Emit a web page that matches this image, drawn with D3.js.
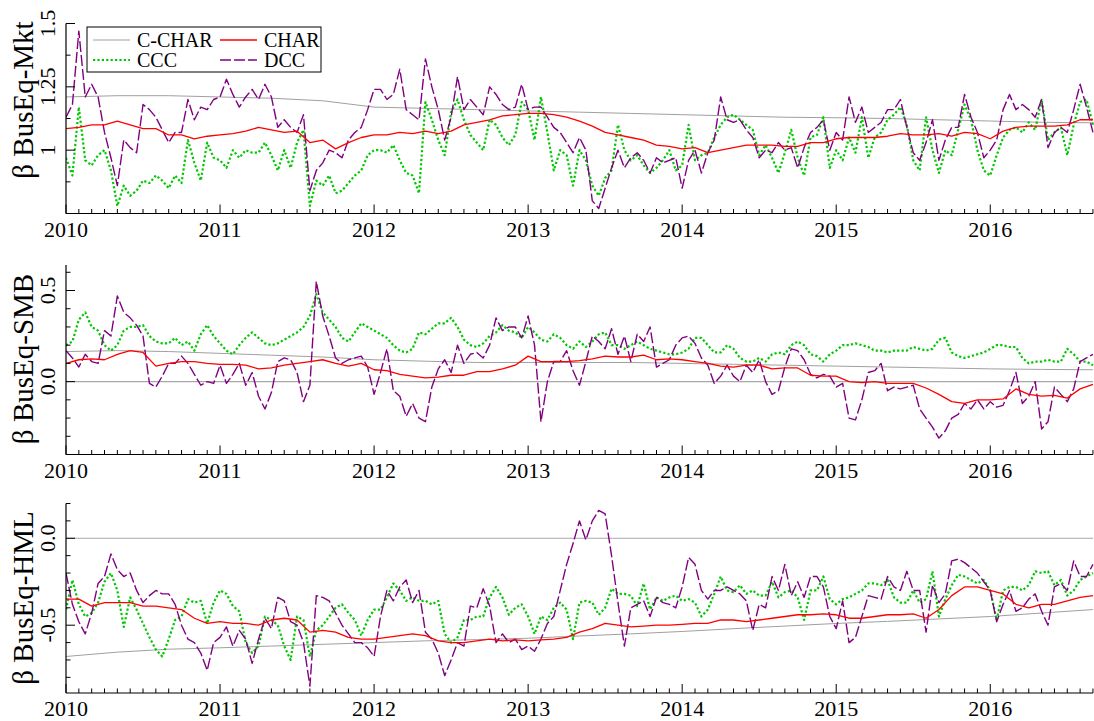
<!DOCTYPE html>
<html>
<head>
<meta charset="utf-8">
<script src="https://cdn.jsdelivr.net/npm/d3@7"></script>
<style>
  body { margin: 0; background: #fff; }
  text { font-family: "Liberation Serif", "Times New Roman", serif; fill: #000; }
</style>
</head>
<body>
<div id="chart"></div>
<script>
// Half-monthly series start at 2010.0, monthly and four-monthly ones too.
var startYear = 2010;
var endYear = 2016.667;
var yearTicks = [2010, 2011, 2012, 2013, 2014, 2015, 2016];
var seriesNames = ['C-CHAR', 'CHAR', 'CCC', 'DCC'];

// --- BusEq-Mkt ---
var mktDCC = [
  1.13,1.18,1.47,1.21,1.26,1.21,1.07,0.97,0.86,1.04,1.01,0.99,1.18,1.16,1.13,1.08,1.03,1.07,1.07,1.2,1.12,1.17,1.16,1.2,
  1.21,1.28,1.22,1.17,1.21,1.24,1.2,1.26,1.21,1.09,1.12,1.09,1.07,1.14,0.84,0.92,0.95,1.0,0.99,0.97,1.04,1.07,1.09,1.16,
  1.24,1.24,1.2,1.22,1.32,1.16,1.14,1.12,1.36,1.25,1.16,1.04,1.13,1.29,1.16,1.2,1.17,1.14,1.25,1.22,1.18,1.16,1.17,1.26,
  1.16,1.17,1.17,1.13,1.09,1.07,1.03,0.99,1.05,1.0,0.8,0.77,0.85,0.93,1.0,0.93,0.97,0.99,0.96,0.91,0.97,0.95,0.96,0.97,
  0.85,0.96,1.0,0.91,0.99,1.04,1.21,1.12,1.11,1.12,1.08,1.05,0.97,1.0,0.99,1.03,1.0,1.01,0.93,1.01,1.07,1.09,1.12,1.0,
  1.07,1.04,1.21,1.11,1.17,1.07,1.09,1.11,1.16,1.16,1.2,1.09,0.99,0.96,1.03,1.12,0.96,1.04,1.09,1.09,1.22,1.13,1.07,0.97,
  1.0,1.04,1.16,1.22,1.16,1.18,1.16,1.13,1.2,1.01,1.07,1.09,1.07,1.16,1.26,1.17,1.07
];
var mktCCC = [
  0.97,0.9,1.17,0.96,0.94,0.98,1.0,0.92,0.78,0.86,0.82,0.84,0.88,0.87,0.9,0.88,0.85,0.9,0.87,1.04,0.95,0.88,1.03,0.97,
  0.96,0.93,1.0,0.97,1.0,0.99,0.99,1.03,0.98,0.92,1.0,0.93,1.03,1.08,0.78,0.88,0.86,0.9,0.83,0.84,0.87,0.9,0.92,0.98,
  1.0,1.0,0.99,1.02,0.96,0.91,0.9,0.83,1.19,1.12,1.04,0.98,1.15,1.2,1.12,1.06,1.03,1.0,1.12,1.1,1.05,1.02,1.06,1.19,
  1.16,1.04,1.21,1.07,0.92,1.0,0.98,0.86,1.0,0.96,0.86,0.82,0.89,0.92,1.1,1.0,0.96,0.98,0.94,0.91,0.93,0.96,1.0,0.92,
  0.94,1.1,0.96,0.98,0.99,1.05,1.1,1.13,1.14,1.12,1.1,1.08,0.98,1.02,0.97,0.91,0.99,1.08,0.97,0.9,1.05,1.06,1.13,0.93,
  1.0,0.96,1.05,0.99,1.13,0.97,1.05,1.07,1.12,1.14,1.17,1.1,0.96,0.92,1.13,1.0,0.91,1.0,0.98,1.08,1.18,1.12,1.0,0.92,
  0.9,0.98,1.05,1.08,1.09,1.07,1.11,1.08,1.2,1.04,1.07,1.09,0.98,1.1,1.19,1.2,1.1
];
var mktCHAR = [
  1.085,1.09,1.1,1.1,1.115,1.1,1.085,1.085,1.06,1.06,1.045,1.055,
  1.06,1.065,1.075,1.09,1.08,1.07,1.075,1.03,1.04,1.005,1.03,1.05,
  1.06,1.06,1.07,1.065,1.075,1.065,1.075,1.1,1.11,1.12,1.135,1.14,
  1.145,1.145,1.14,1.13,1.115,1.095,1.07,1.06,1.05,1.04,1.02,1.015,
  1.005,1.01,0.99,1.0,1.01,1.02,1.02,1.02,1.015,1.015,1.03,1.03,
  1.045,1.05,1.05,1.05,1.055,1.065,1.06,1.06,1.065,1.055,1.07,1.065,
  1.045,1.075,1.09,1.095,1.095,1.095,1.1,1.12,1.12
];
var mktCCHAR = [1.21,1.215,1.215,1.21,1.205,1.195,1.17,1.165,1.16,1.155,1.15,1.145,1.14,1.135,1.13,1.128,1.125,1.12,1.115,1.11,1.108];

// --- BusEq-SMB ---
var smbDCC = [
  0.17,0.13,0.08,0.15,0.11,0.1,0.28,0.25,0.47,0.38,0.35,0.31,0.25,-0.01,-0.03,0.03,0.1,0.1,0.14,0.1,0.04,-0.02,0.0,-0.01,
  0.09,-0.01,0.04,0.1,-0.02,0.05,-0.08,-0.15,-0.06,0.11,0.13,0.12,0.05,-0.11,-0.02,0.55,0.36,0.25,0.13,0.1,0.12,0.13,0.14,0.08,
  -0.07,0.05,0.18,-0.05,-0.08,-0.19,-0.12,-0.2,-0.22,-0.03,0.07,0.12,0.05,0.2,0.1,0.15,0.16,0.13,0.2,0.35,0.28,0.3,0.3,0.24,
  0.36,0.2,-0.22,0.0,0.11,0.11,0.17,0.06,-0.02,0.11,0.25,0.22,0.18,0.29,0.15,0.25,0.11,0.26,0.22,0.3,0.08,0.1,0.12,0.2,
  0.24,0.25,0.21,0.13,0.09,-0.01,0.03,0.09,0.03,0.0,0.09,0.05,0.12,0.0,-0.07,-0.05,0.08,0.18,0.17,0.12,0.04,0.02,0.04,0.03,
  -0.03,-0.01,-0.2,-0.21,-0.1,0.05,0.06,0.1,-0.05,-0.03,-0.04,-0.03,-0.02,-0.15,-0.2,-0.25,-0.31,-0.27,-0.2,-0.18,-0.12,-0.15,-0.1,-0.15,
  -0.11,-0.14,-0.13,-0.05,0.05,-0.12,-0.08,0.0,-0.26,-0.22,-0.03,-0.07,-0.11,-0.04,0.11,0.13,0.15
];
var smbCCC = [
  0.2,0.22,0.34,0.38,0.3,0.28,0.2,0.17,0.2,0.28,0.3,0.3,0.31,0.25,0.22,0.21,0.21,0.24,0.2,0.22,0.17,0.26,0.31,0.25,
  0.21,0.17,0.15,0.2,0.24,0.27,0.24,0.21,0.2,0.21,0.23,0.25,0.27,0.3,0.36,0.48,0.38,0.34,0.3,0.24,0.22,0.27,0.32,0.3,
  0.28,0.26,0.24,0.2,0.17,0.16,0.18,0.27,0.26,0.29,0.32,0.32,0.35,0.3,0.23,0.2,0.19,0.21,0.25,0.27,0.31,0.28,0.27,0.24,
  0.3,0.27,0.23,0.22,0.26,0.24,0.2,0.18,0.22,0.19,0.22,0.26,0.27,0.2,0.2,0.18,0.2,0.22,0.2,0.18,0.17,0.16,0.15,0.15,
  0.16,0.18,0.24,0.24,0.2,0.16,0.16,0.2,0.18,0.13,0.11,0.11,0.13,0.11,0.15,0.16,0.15,0.2,0.22,0.2,0.15,0.14,0.11,0.15,
  0.17,0.2,0.2,0.21,0.2,0.19,0.17,0.17,0.16,0.17,0.17,0.17,0.19,0.18,0.17,0.18,0.23,0.24,0.16,0.14,0.13,0.14,0.15,0.16,
  0.18,0.2,0.2,0.19,0.19,0.13,0.1,0.11,0.11,0.12,0.11,0.11,0.18,0.15,0.11,0.11,0.09
];
var smbCHAR = [
  0.1,0.12,0.125,0.12,0.15,0.17,0.16,0.085,0.1,0.11,0.11,0.1,
  0.095,0.095,0.09,0.07,0.075,0.09,0.1,0.11,0.12,0.1,0.085,0.1,
  0.065,0.06,0.04,0.03,0.02,0.025,0.035,0.035,0.055,0.055,0.07,0.09,
  0.14,0.11,0.11,0.11,0.115,0.125,0.14,0.135,0.135,0.145,0.12,0.125,
  0.12,0.11,0.1,0.085,0.08,0.09,0.09,0.07,0.075,0.075,0.035,0.03,
  0.03,0.0,-0.005,0.0,-0.01,-0.01,-0.01,-0.035,-0.07,-0.11,-0.12,-0.1,
  -0.1,-0.095,-0.04,-0.07,-0.08,-0.075,-0.09,-0.04,-0.015
];
var smbCCHAR = [0.165,0.17,0.165,0.155,0.145,0.135,0.12,0.112,0.105,0.105,0.105,0.105,0.1,0.095,0.09,0.085,0.08,0.075,0.07,0.067,0.065];

// --- BusEq-HML ---
var hmlDCC = [
  -0.2,-0.38,-0.48,-0.55,-0.43,-0.26,-0.22,-0.09,-0.18,-0.22,-0.2,-0.3,-0.37,-0.33,-0.3,-0.32,-0.32,-0.38,-0.5,-0.58,-0.6,-0.66,-0.76,-0.6,
  -0.57,-0.51,-0.62,-0.53,-0.58,-0.72,-0.58,-0.46,-0.52,-0.34,-0.36,-0.48,-0.5,-0.6,-0.85,-0.33,-0.34,-0.36,-0.43,-0.5,-0.55,-0.6,-0.6,-0.63,
  -0.68,-0.45,-0.3,-0.36,-0.28,-0.24,-0.37,-0.3,-0.54,-0.58,-0.66,-0.79,-0.7,-0.6,-0.62,-0.39,-0.4,-0.29,-0.39,-0.6,-0.55,-0.6,-0.58,-0.64,
  -0.62,-0.65,-0.58,-0.49,-0.45,-0.3,-0.15,-0.03,0.1,-0.01,0.1,0.16,0.14,-0.1,-0.37,-0.62,-0.4,-0.38,-0.36,-0.45,-0.34,-0.37,-0.38,-0.4,
  -0.28,-0.11,-0.15,-0.3,-0.35,-0.3,-0.3,-0.28,-0.3,-0.32,-0.36,-0.53,-0.38,-0.4,-0.22,-0.3,-0.15,-0.33,-0.25,-0.34,-0.22,-0.22,-0.28,-0.45,
  -0.52,-0.36,-0.6,-0.57,-0.45,-0.33,-0.34,-0.35,-0.22,-0.28,-0.3,-0.19,-0.3,-0.3,-0.54,-0.27,-0.37,-0.32,-0.13,-0.12,-0.14,-0.17,-0.2,-0.25,
  -0.3,-0.48,-0.38,-0.3,-0.42,-0.4,-0.35,-0.32,-0.42,-0.5,-0.28,-0.26,-0.3,-0.13,-0.22,-0.22,-0.15
];
var hmlCCC = [
  -0.41,-0.24,-0.38,-0.45,-0.43,-0.37,-0.25,-0.2,-0.3,-0.51,-0.34,-0.41,-0.49,-0.57,-0.64,-0.68,-0.58,-0.47,-0.45,-0.35,-0.37,-0.36,-0.49,-0.37,
  -0.3,-0.32,-0.39,-0.42,-0.6,-0.66,-0.62,-0.45,-0.47,-0.5,-0.62,-0.7,-0.45,-0.47,-0.68,-0.53,-0.5,-0.45,-0.4,-0.38,-0.43,-0.47,-0.56,-0.47,
  -0.41,-0.41,-0.34,-0.26,-0.3,-0.36,-0.34,-0.36,-0.36,-0.38,-0.36,-0.55,-0.6,-0.57,-0.47,-0.47,-0.45,-0.45,-0.34,-0.28,-0.34,-0.44,-0.4,-0.38,
  -0.45,-0.55,-0.45,-0.47,-0.4,-0.37,-0.41,-0.58,-0.37,-0.36,-0.37,-0.44,-0.4,-0.29,-0.32,-0.32,-0.33,-0.39,-0.26,-0.41,-0.34,-0.36,-0.34,-0.33,
  -0.36,-0.35,-0.37,-0.45,-0.41,-0.32,-0.22,-0.3,-0.31,-0.27,-0.32,-0.3,-0.33,-0.33,-0.25,-0.34,-0.31,-0.3,-0.34,-0.47,-0.3,-0.3,-0.22,-0.35,
  -0.38,-0.35,-0.34,-0.32,-0.3,-0.26,-0.26,-0.27,-0.24,-0.34,-0.37,-0.37,-0.3,-0.37,-0.35,-0.19,-0.45,-0.35,-0.27,-0.21,-0.22,-0.24,-0.26,-0.24,
  -0.3,-0.47,-0.3,-0.28,-0.28,-0.3,-0.27,-0.19,-0.2,-0.19,-0.27,-0.24,-0.33,-0.3,-0.24,-0.22,-0.2
];
var hmlCHAR = [
  -0.35,-0.35,-0.39,-0.37,-0.37,-0.37,-0.39,-0.39,-0.4,-0.41,-0.46,-0.49,
  -0.48,-0.49,-0.49,-0.5,-0.47,-0.46,-0.47,-0.54,-0.53,-0.54,-0.57,-0.58,
  -0.58,-0.57,-0.56,-0.55,-0.56,-0.59,-0.6,-0.6,-0.59,-0.58,-0.59,-0.585,
  -0.59,-0.585,-0.58,-0.57,-0.54,-0.52,-0.49,-0.5,-0.51,-0.505,-0.5,-0.5,
  -0.495,-0.49,-0.49,-0.47,-0.47,-0.48,-0.47,-0.46,-0.45,-0.44,-0.44,-0.435,
  -0.44,-0.46,-0.46,-0.45,-0.44,-0.44,-0.435,-0.46,-0.41,-0.33,-0.28,-0.28,
  -0.3,-0.32,-0.38,-0.4,-0.38,-0.38,-0.36,-0.34,-0.33
];
var hmlCCHAR = [-0.68,-0.655,-0.638,-0.63,-0.62,-0.61,-0.6,-0.59,-0.583,-0.575,-0.562,-0.55,-0.536,-0.52,-0.505,-0.49,-0.478,-0.464,-0.45,-0.43,-0.41];

// steps (in years) between consecutive values of each kind of series
var STEP_NOISY = 1 / 24, STEP_CHAR = 1 / 12, STEP_CCHAR = 1 / 3;

var W = 1094, H = 721;
var LEFT = 66, RIGHT = 1093;

var panels = [
  {title: 'β BusEq-Mkt', top: 23.5, bottom: 213.5, domain: [0.75, 1.5],
   major: [1, 1.25, 1.5], labels: ['1', '1.25', '1.5'], minorStep: 0.125, zero: false, titleY: 100,
   cchar: mktCCHAR, char: mktCHAR, ccc: mktCCC, dcc: mktDCC},
  {title: 'β BusEq-SMB', top: 265, bottom: 454.5, domain: [-0.4, 0.64],
   major: [0, 0.5], labels: ['0.0', '0.5'], minorStep: 0.1, zero: true, titleY: 359,
   cchar: smbCCHAR, char: smbCHAR, ccc: smbCCC, dcc: smbDCC},
  {title: 'β BusEq-HML', top: 503.5, bottom: 693, domain: [-0.89, 0.2],
   major: [0, -0.5], labels: ['0.0', '-0.5'], minorStep: 0.1, zero: true, titleY: 598,
   cchar: hmlCCHAR, char: hmlCHAR, ccc: hmlCCC, dcc: hmlDCC}
];

var styles = {
  'C-CHAR': {color: '#a0a0a0', width: 1, dash: null},
  'CHAR':   {color: '#ff0000', width: 1.3, dash: null},
  'CCC':    {color: '#00c800', width: 2.2, dash: '2.2,2.2'},
  'DCC':    {color: '#800080', width: 1.4, dash: '11,3'}
};

var svg = d3.select('#chart').append('svg')
    .attr('width', W)
    .attr('height', H);

var x = d3.scaleLinear().domain([startYear, endYear]).range([LEFT, RIGHT]);

svg.append('defs').append('clipPath')
    .attr('id', 'clip')
  .append('rect')
    .attr('x', LEFT).attr('y', 0)
    .attr('width', RIGHT - LEFT + 1).attr('height', H);

function toPoints(values, step) {
  return values.map(function(v, i) { return [startYear + i * step, v]; });
}

panels.forEach(function(p) {
  var y = d3.scaleLinear().domain(p.domain).range([p.bottom, p.top]);
  var g = svg.append('g');

  // zero reference line
  if (p.zero) {
    g.append('line')
        .attr('x1', LEFT).attr('x2', RIGHT)
        .attr('y1', y(0)).attr('y2', y(0))
        .attr('stroke', '#a8a8a8')
        .attr('stroke-width', 1.2);
  }

  var line = d3.line()
      .x(function(d) { return x(d[0]); })
      .y(function(d) { return y(d[1]); });

  var series = [
    {name: 'C-CHAR', pts: toPoints(p.cchar, STEP_CCHAR)},
    {name: 'CCC', pts: toPoints(p.ccc, STEP_NOISY)},
    {name: 'DCC', pts: toPoints(p.dcc, STEP_NOISY)},
    {name: 'CHAR', pts: toPoints(p.char, STEP_CHAR)}
  ];

  g.append('g').attr('clip-path', 'url(#clip)')
    .selectAll('path')
      .data(series)
    .enter().append('path')
      .attr('d', function(d) { return line(d.pts); })
      .attr('fill', 'none')
      .attr('stroke', function(d) { return styles[d.name].color; })
      .attr('stroke-width', function(d) { return styles[d.name].width; })
      .attr('stroke-dasharray', function(d) { return styles[d.name].dash; })
      .attr('stroke-linejoin', 'round');

  // x axis: inward ticks, years long and months short
  var xAxis = g.append('g');
  xAxis.append('line')
      .attr('x1', LEFT).attr('x2', RIGHT)
      .attr('y1', p.bottom).attr('y2', p.bottom)
      .attr('stroke', '#000').attr('stroke-width', 1.2);
  var months = d3.range(0, Math.floor((endYear - startYear) * 12) + 1).map(function(m) { return startYear + m / 12; });
  xAxis.selectAll('line.tick')
      .data(months)
    .enter().append('line')
      .attr('class', 'tick')
      .attr('x1', function(d) { return x(d); })
      .attr('x2', function(d) { return x(d); })
      .attr('y1', p.bottom)
      .attr('y2', function(d, i) { return i % 12 === 0 ? p.bottom - 9 : p.bottom - 4.5; })
      .attr('stroke', '#000').attr('stroke-width', 1);
  xAxis.selectAll('text')
      .data(yearTicks)
    .enter().append('text')
      .attr('x', function(d) { return x(d); })
      .attr('y', p.bottom + 23)
      .attr('text-anchor', 'middle')
      .style('font-size', '22px')
      .text(function(d) { return d; });

  // y axis: inward ticks, labels rotated
  var yAxis = g.append('g');
  yAxis.append('line')
      .attr('x1', LEFT).attr('x2', LEFT)
      .attr('y1', p.top).attr('y2', p.bottom)
      .attr('stroke', '#000').attr('stroke-width', 1.2);
  var minor = d3.range(Math.ceil(p.domain[0] / p.minorStep - 1e-6), Math.floor(p.domain[1] / p.minorStep + 1e-6) + 1)
      .map(function(k) { return +(k * p.minorStep).toFixed(4); });
  yAxis.selectAll('line.tick')
      .data(minor)
    .enter().append('line')
      .attr('class', 'tick')
      .attr('x1', LEFT)
      .attr('x2', function(d) { return p.major.indexOf(d) >= 0 ? LEFT + 9 : LEFT + 4.5; })
      .attr('y1', function(d) { return y(d); })
      .attr('y2', function(d) { return y(d); })
      .attr('stroke', '#000').attr('stroke-width', 1);
  yAxis.selectAll('text')
      .data(p.major)
    .enter().append('text')
      .attr('transform', function(d) { return 'translate(55,' + y(d) + ') rotate(-90)'; })
      .attr('text-anchor', 'middle')
      .style('font-size', '22px')
      .text(function(d, i) { return p.labels[i]; });

  g.append('text')
      .attr('transform', 'translate(33,' + p.titleY + ') rotate(-90)')
      .attr('text-anchor', 'middle')
      .style('font-size', '29px')
      .text(p.title);
});

// legend in the top panel
var legend = svg.append('g');
legend.append('rect')
    .attr('x', 87).attr('y', 27)
    .attr('width', 234).attr('height', 45)
    .attr('fill', '#fff')
    .attr('stroke', '#000').attr('stroke-width', 1);

var legendPos = [[93, 40], [220, 40], [93, 60], [220, 60]];
seriesNames.forEach(function(name, i) {
  var s = styles[name];
  var pos = legendPos[i];
  legend.append('line')
      .attr('x1', pos[0]).attr('x2', pos[0] + 37)
      .attr('y1', pos[1]).attr('y2', pos[1])
      .attr('stroke', s.color)
      .attr('stroke-width', s.width)
      .attr('stroke-dasharray', s.dash);
  legend.append('text')
      .attr('x', pos[0] + 44)
      .attr('y', pos[1] + 7)
      .style('font-size', '20px')
      .text(name);
});
</script>
</body>
</html>
